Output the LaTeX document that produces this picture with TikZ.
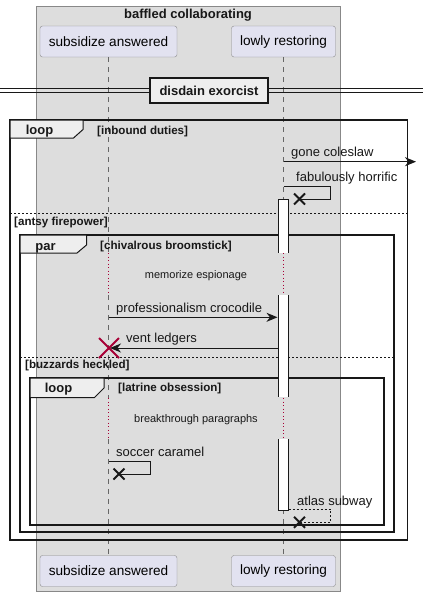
\documentclass[tikz,border=0pt]{standalone}
\usepackage{fontspec}
\setmainfont{Liberation Sans}
\usetikzlibrary{arrows.meta,calc}
\definecolor{boxgray}{HTML}{DDDDDD}
\definecolor{boxline}{HTML}{888888}
\definecolor{partfill}{HTML}{E2E2F0}
\definecolor{partline}{HTML}{8A8A8A}
\definecolor{pred}{HTML}{A80036}
\definecolor{tabfill}{HTML}{EEEEEE}
\definecolor{ink}{HTML}{181818}
\begin{document}
\begin{tikzpicture}[x=1pt,y=-1pt,
 part/.style={draw=partline, fill=partfill, rounded corners=2.5pt, minimum height=31pt, inner sep=0pt, font=\fontsize{13.6}{16}\selectfont},
 lbl/.style={font=\fontsize{13}{15}\selectfont, inner sep=0pt, anchor=base west, text=ink},
 cond/.style={font=\bfseries\fontsize{11.6}{13}\selectfont, inner sep=0pt, anchor=base west, text=ink},
 tablbl/.style={font=\bfseries\fontsize{13}{15}\selectfont, inner sep=0pt, anchor=base, text=ink},
 dly/.style={font=\fontsize{11}{13}\selectfont, inner sep=0pt, anchor=base, text=ink},
 frm/.style={draw=ink, line width=1.5pt},
 tabshape/.style={draw=ink, line width=1pt, fill=tabfill},
 sepline/.style={draw=ink, dash pattern=on 2pt off 2pt, line width=0.8pt},
 life/.style={draw=black!60, dash pattern=on 5pt off 5pt, line width=0.8pt},
 delayline/.style={draw=pred, dash pattern=on 1pt off 2.5pt, line width=0.9pt},
 msg/.style={draw=ink, line width=1pt},
 tip/.style={-{Stealth[length=11pt,width=9pt,inset=3.5pt]}},
 xmk/.style={draw=ink, line width=2pt},
 rxmk/.style={draw=pred, line width=1.8pt},
]
\useasboundingbox (0,0) rectangle (423,597);
\fill[white] (0,0) rectangle (423,597);

% box
\draw[fill=boxgray, draw=boxline, line width=0.8pt] (36,6) rectangle (340,591);
\node[font=\bfseries\fontsize{13}{15}\selectfont, inner sep=0pt, anchor=base, text=ink] (boxtitle) at (188,18.5) {baffled collaborating};

% participants
\node[part, minimum width=137pt] (sa) at (108.5,41.5) {subsidize answered};
\node[part, minimum width=104pt] (lr) at (283.5,41.5) {lowly restoring};
\node[part, minimum width=137pt] (sab) at (108.5,571) {subsidize answered};
\node[part, minimum width=104pt] (lrb) at (283.5,571) {lowly restoring};

% lifelines
\coordinate (sa1) at (108.5,253); \coordinate (sa2) at (108.5,295);
\coordinate (sa3) at (108.5,398); \coordinate (sa4) at (108.5,439);
\coordinate (lr1) at (283.5,253); \coordinate (lr2) at (283.5,295);
\coordinate (lr3) at (283.5,398); \coordinate (lr4) at (283.5,439);
\draw[life] (sa.south) -- (sa1);
\draw[delayline] (sa1) -- (sa2);
\draw[life] (sa2) -- (sa3);
\draw[delayline] (sa3) -- (sa4);
\draw[life] (sa4) -- (sab.north);
\draw[life] (lr.south) -- (lr1);
\draw[delayline] (lr1) -- (lr2);
\draw[life] (lr2) -- (lr3);
\draw[delayline] (lr3) -- (lr4);
\draw[life] (lr4) -- (lrb.north);

% divider
\draw[ink, line width=0.9pt] (0,88.7) -- (423,88.7);
\draw[ink, line width=0.9pt] (0,92.3) -- (423,92.3);
\node[draw=ink, line width=1.8pt, fill=tabfill, minimum width=118pt, minimum height=25pt, inner sep=0pt, font=\bfseries\fontsize{13}{15}\selectfont, text=ink] (div) at (209,90.5) {disdain exorcist};

% outer loop frame
\draw[frm] (10,120) rectangle (407.5,540);
\draw[tabshape] (10,120) -- (83,120) -- (83,129.5) -- (73.5,138) -- (10,138) -- cycle;
\node[tablbl] (t1) at (39.5,134) {loop};
\node[cond] (c1) at (97,134) {[inbound duties]};
\draw[sepline] (10,213) -- (407.5,213);
\node[cond] (c2) at (14,225) {[antsy firepower]};

% par frame
\draw[frm] (20,235) rectangle (394,532);
\draw[tabshape] (20,235) -- (86.5,235) -- (86.5,245) -- (77,253) -- (20,253) -- cycle;
\node[tablbl] (t2) at (45.5,250) {par};
\node[cond] (c3) at (100,249) {[chivalrous broomstick]};
\draw[sepline] (20,357) -- (394,357);
\node[cond] (c4) at (25,368) {[buzzards heckled]};

% inner loop frame
\draw[frm] (30,378) rectangle (384,525);
\draw[tabshape] (30,378) -- (104,378) -- (104,388) -- (94.5,397.5) -- (30,397.5) -- cycle;
\node[tablbl] (t3) at (58.5,392.7) {loop};
\node[cond] (c5) at (118,391.7) {[latrine obsession]};

% activation
\coordinate (a0) at (278.5,199.3); \coordinate (a5) at (288.5,510);
\fill[white] (a0) rectangle (a5);
\draw[ink, line width=1pt] (278.5,253.3) -- (278.5,199.3) -- (288.5,199.3) -- (288.5,253.3);
\draw[ink, line width=1pt] (278.5,295) -- (278.5,397.3);
\draw[ink, line width=1pt] (288.5,295) -- (288.5,397.3);
\draw[ink, line width=1pt] (278.5,439) -- (278.5,510) -- (288.5,510) -- (288.5,439);
\fill[boxgray] (278,253.3) rectangle (289,295);
\fill[boxgray] (278,397.3) rectangle (289,439);
\draw[delayline] (lr1) -- (lr2);
\draw[delayline] (lr3) -- (lr4);

% gone coleslaw
\coordinate (g0) at (283.5,161.7); \coordinate (g1) at (416,161.7);
\draw[msg, tip] (g0) -- (g1);
\node[lbl] (m1) at (291,156.7) {gone coleslaw};

% fabulously horrific
\coordinate (f0) at (283.5,186.7); \coordinate (fx) at (299.5,199);
\draw[msg] (f0) -- (330,186.7) -- (330,199) -- (fx);
\draw[xmk] ($(fx)+(-5.5,-5.5)$) -- ($(fx)+(5.5,5.5)$) ($(fx)+(-5.5,5.5)$) -- ($(fx)+(5.5,-5.5)$);
\node[lbl] (m2) at (296,181.7) {fabulously horrific};

% delays
\node[dly] (d1) at (196,278) {memorize espionage};
\node[dly] (d2) at (196,422.7) {breakthrough paragraphs};

% professionalism crocodile
\coordinate (p0) at (108.5,317.3); \coordinate (p1) at (277.5,317.3);
\draw[msg, tip] (p0) -- (p1);
\node[lbl] (m3) at (116,312.7) {professionalism crocodile};

% vent ledgers
\coordinate (v0) at (278.5,348); \coordinate (v1) at (110,348);
\draw[msg, tip] (v0) -- (v1);
\draw[rxmk] (99,338) -- (119,358) (99,358) -- (119,338);
\node[lbl] (m4) at (126,342.7) {vent ledgers};

% soccer caramel
\coordinate (s0) at (108.5,461); \coordinate (sx) at (119,474);
\draw[msg] (s0) -- (150.5,461) -- (150.5,474) -- (sx);
\draw[xmk] ($(sx)+(-5.5,-5.5)$) -- ($(sx)+(5.5,5.5)$) ($(sx)+(-5.5,5.5)$) -- ($(sx)+(5.5,-5.5)$);
\node[lbl] (m5) at (116,456.7) {soccer caramel};

% atlas subway
\coordinate (w0) at (288.5,509); \coordinate (wx) at (299.5,522.3);
\draw[ink, line width=0.8pt, dash pattern=on 2pt off 2pt] (w0) -- (330.5,509) -- (330.5,522.3) -- (wx);
\draw[xmk] ($(wx)+(-5.5,-5.5)$) -- ($(wx)+(5.5,5.5)$) ($(wx)+(-5.5,5.5)$) -- ($(wx)+(5.5,-5.5)$);
\node[lbl] (m6) at (297,505) {atlas subway};
\end{tikzpicture}
\end{document}
